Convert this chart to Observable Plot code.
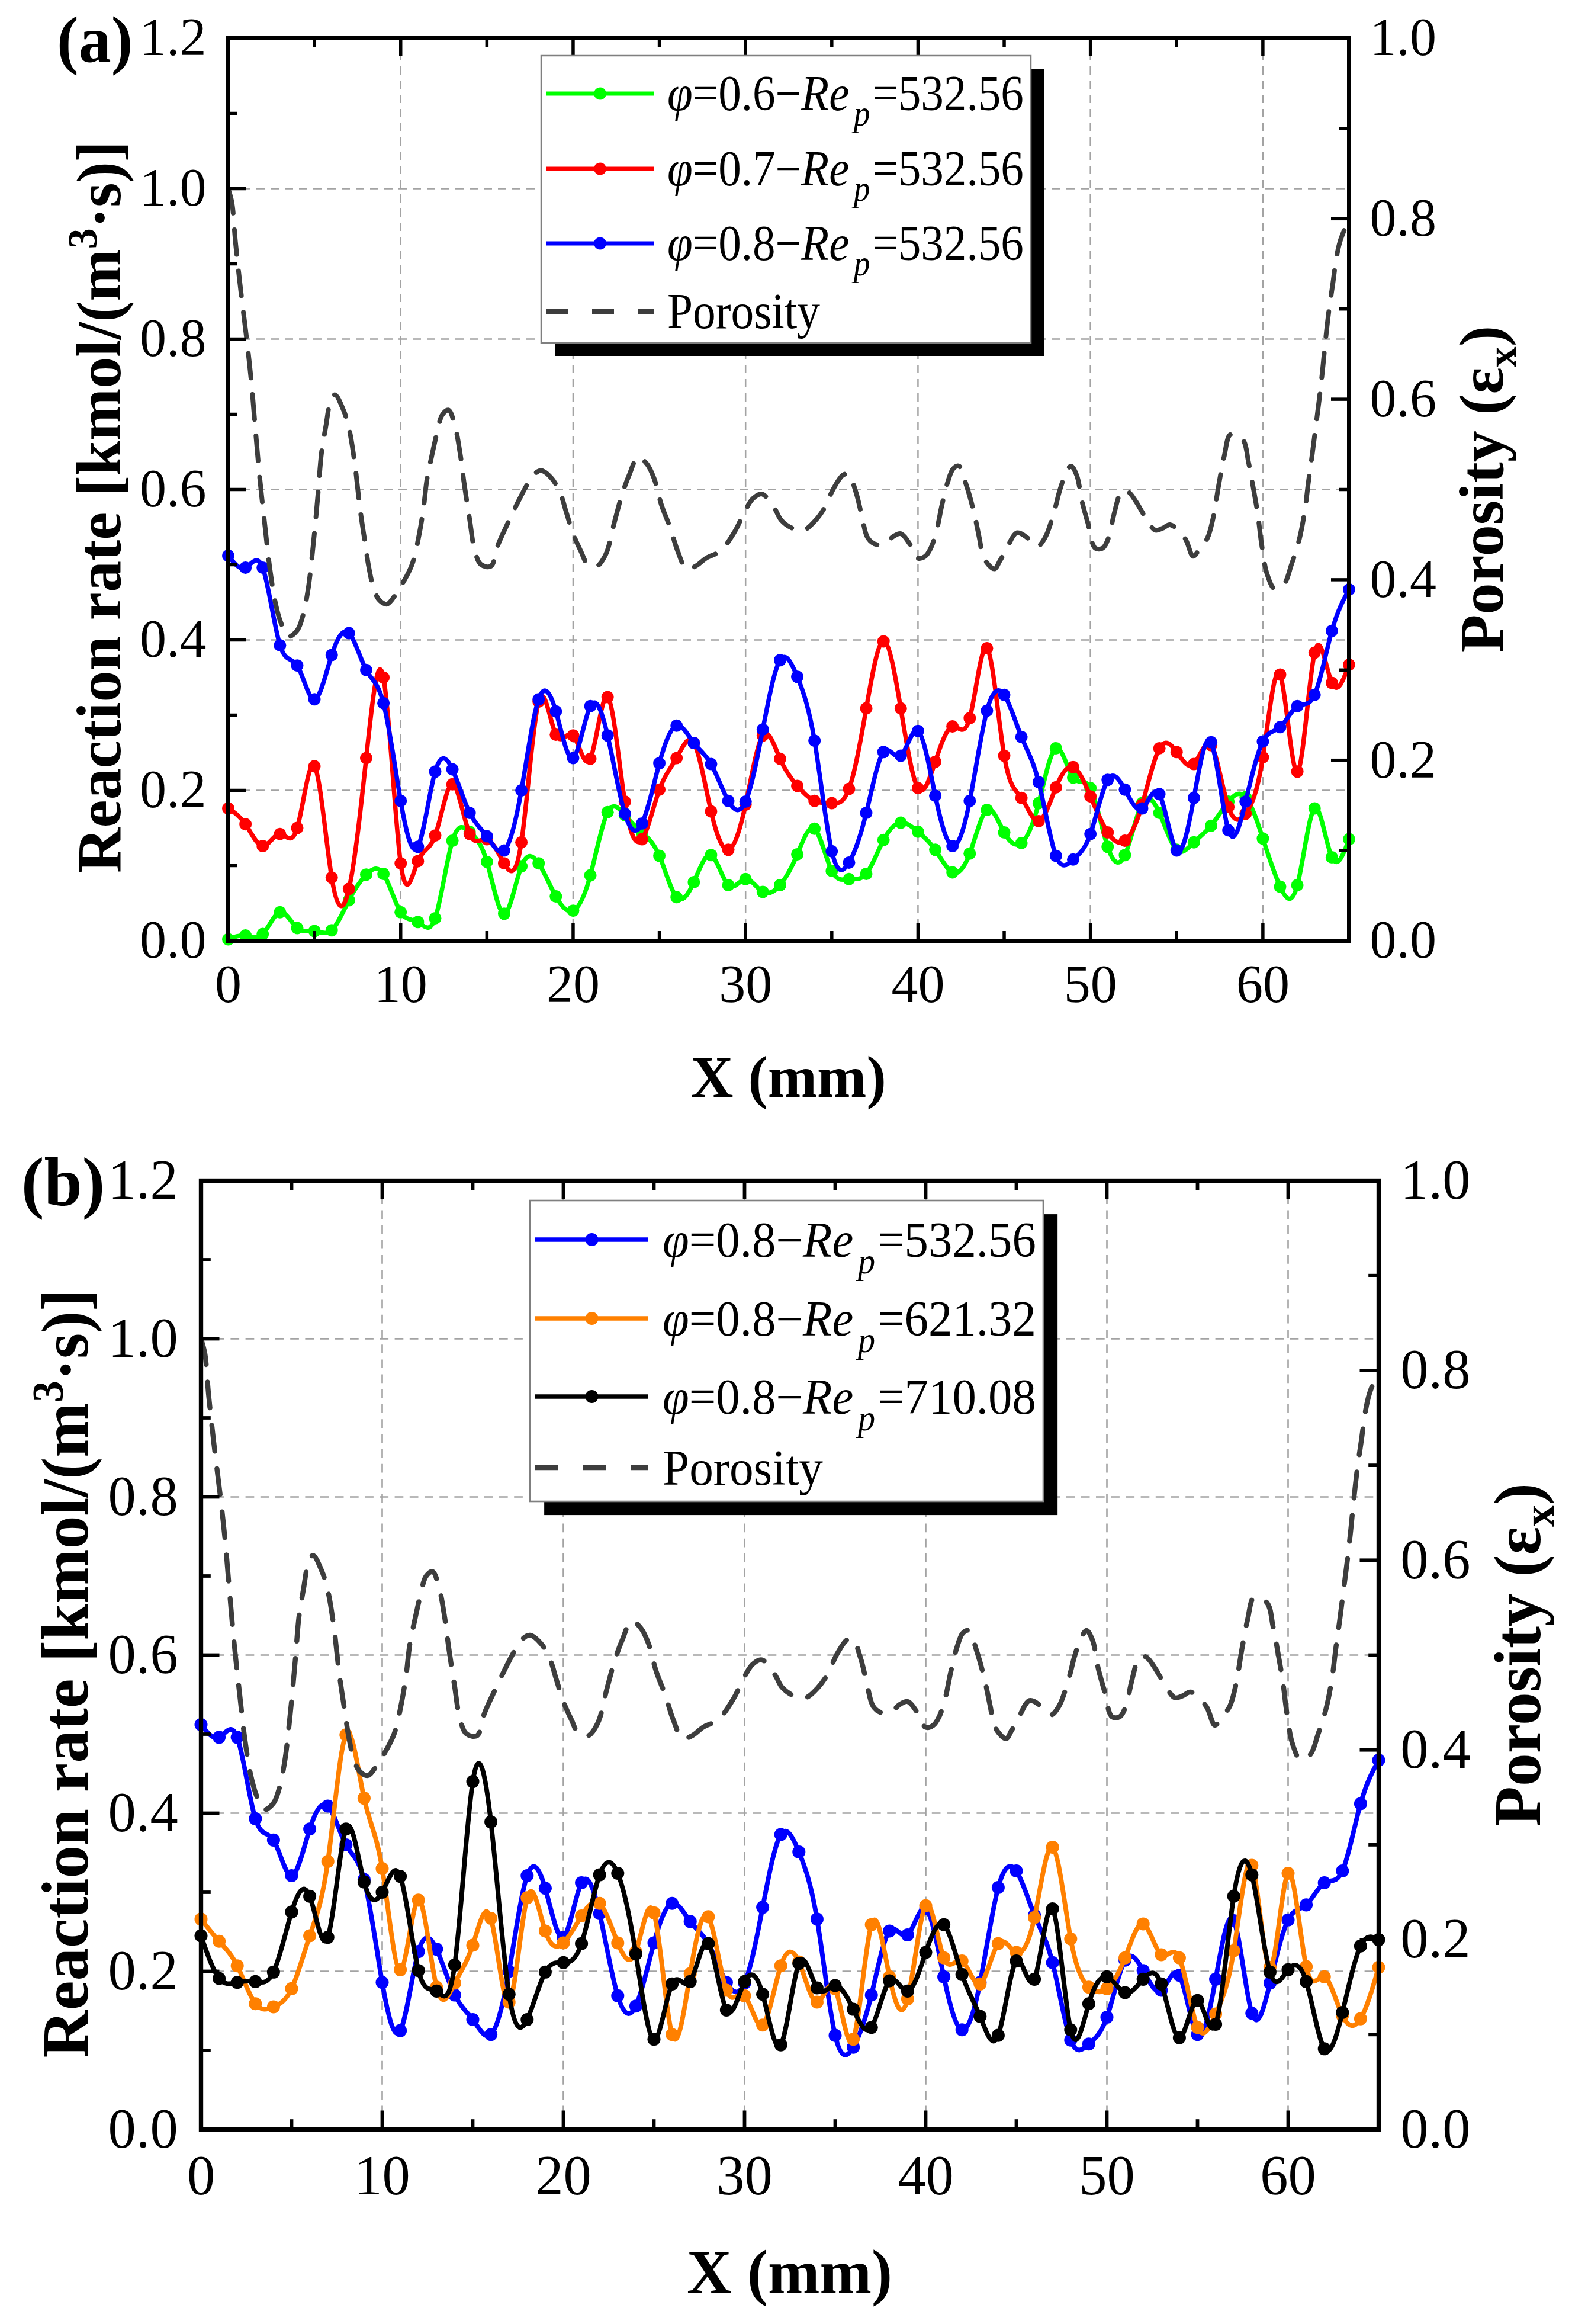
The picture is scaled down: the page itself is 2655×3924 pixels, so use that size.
<!DOCTYPE html>
<html>
<head>
<meta charset="utf-8">
<title>Reaction rate and porosity along X</title>
<script src="https://cdn.jsdelivr.net/npm/d3@7"></script>
<script src="https://cdn.jsdelivr.net/npm/@observablehq/plot@0.6"></script>
<style>
  html, body { margin: 0; padding: 0; background: #fff; }
  #page { position: relative; width: 2655px; height: 3924px; overflow: hidden; background: #fff; }
  .panel { position: absolute; left: 0; width: 2655px; }
  .panel > svg { position: absolute; left: 0; top: 0; display: block; }
</style>
</head>
<body>
<div id="page">
  <div class="panel" id="panel-a" style="top:0px;height:1900px"></div>
  <div class="panel" id="panel-b" style="top:1900px;height:2024px"></div>
</div>
<script>
// ---- data -----------------------------------------------------------------
// positions along the bed (mm) shared by every reaction-rate series
const X_MM = [0,1,2,3,4,5,6,7,8,9,10,11,12,13,14,15,16,17,18,19,20,21,22,23,24,25,26,27,28,29,30,31,32,
  33,34,35,36,37,38,39,40,41,42,43,44,45,46,47,48,49,50,51,52,53,54,55,56,57,58,59,60,61,62,63,64,65];

// reaction rate, kmol/(m3·s)
const RATE_PHI06_RE532 = [0.002,0.007,0.009,0.038,0.017,0.013,0.014,0.054,0.088,0.089,0.038,0.025,0.030,0.133,0.145,
  0.105,0.036,0.099,0.103,0.059,0.040,0.087,0.171,0.167,0.144,0.113,0.058,0.078,0.114,0.074,0.082,0.065,0.074,
  0.115,0.149,0.093,0.082,0.089,0.134,0.157,0.145,0.121,0.091,0.116,0.174,0.144,0.130,0.183,0.256,0.217,0.203,
  0.125,0.114,0.183,0.170,0.121,0.131,0.153,0.185,0.191,0.136,0.072,0.074,0.176,0.111,0.135];
const RATE_PHI07_RE532 = [0.176,0.155,0.126,0.142,0.150,0.232,0.084,0.069,0.243,0.350,0.103,0.106,0.140,0.208,0.142,
  0.135,0.103,0.131,0.318,0.274,0.273,0.242,0.324,0.185,0.135,0.201,0.243,0.263,0.172,0.121,0.181,0.273,0.242,
  0.206,0.186,0.183,0.202,0.309,0.398,0.309,0.203,0.238,0.285,0.296,0.389,0.246,0.190,0.159,0.204,0.231,0.192,
  0.144,0.133,0.181,0.256,0.251,0.235,0.260,0.178,0.169,0.244,0.354,0.225,0.383,0.343,0.367];
const RATE_PHI08_RE532 = [0.512,0.496,0.496,0.393,0.366,0.321,0.380,0.409,0.360,0.316,0.186,0.125,0.225,0.228,0.170,
  0.139,0.120,0.200,0.321,0.305,0.243,0.312,0.273,0.169,0.156,0.236,0.286,0.263,0.235,0.186,0.185,0.281,0.373,
  0.351,0.266,0.119,0.104,0.170,0.251,0.246,0.279,0.193,0.126,0.186,0.306,0.327,0.271,0.211,0.113,0.108,0.142,
  0.214,0.201,0.176,0.195,0.120,0.190,0.264,0.147,0.185,0.265,0.284,0.312,0.327,0.412,0.467];
const RATE_PHI08_RE621 = [0.266,0.238,0.207,0.159,0.155,0.178,0.245,0.339,0.499,0.419,0.330,0.202,0.290,0.180,0.185,
  0.233,0.267,0.161,0.293,0.251,0.236,0.270,0.286,0.236,0.225,0.274,0.120,0.197,0.269,0.176,0.169,0.132,0.207,
  0.212,0.161,0.178,0.114,0.259,0.193,0.165,0.283,0.217,0.213,0.184,0.235,0.224,0.268,0.357,0.241,0.180,0.178,
  0.217,0.260,0.221,0.217,0.129,0.146,0.226,0.334,0.205,0.324,0.206,0.193,0.144,0.140,0.205];
const RATE_PHI08_RE710 = [0.245,0.191,0.186,0.187,0.199,0.275,0.295,0.243,0.380,0.313,0.300,0.320,0.201,0.175,0.208,
  0.440,0.389,0.171,0.139,0.199,0.211,0.235,0.322,0.324,0.222,0.114,0.184,0.187,0.235,0.151,0.187,0.171,0.107,
  0.210,0.179,0.182,0.152,0.129,0.188,0.175,0.224,0.259,0.196,0.143,0.119,0.213,0.190,0.279,0.126,0.159,0.193,
  0.173,0.190,0.184,0.116,0.163,0.133,0.295,0.322,0.199,0.202,0.187,0.102,0.148,0.232,0.240];

// radial porosity profile (right axis)
const POROSITY_X = [0,0.21,0.42,0.71,1.08,1.33,1.56,1.81,2.12,2.43,2.75,3.06,3.48,4.0,4.31,4.62,4.93,5.2,5.41,5.66,
  5.91,6.18,6.7,7.01,7.33,7.64,7.95,8.16,8.47,8.78,9.2,9.61,10.14,10.66,11.07,11.32,11.53,11.8,12.11,12.42,12.78,
  13.15,13.47,13.67,13.99,14.3,14.65,15.23,15.65,16.27,16.8,17.32,17.69,18.15,18.77,19.29,19.6,20.02,20.44,20.85,
  21.37,21.89,22.41,22.83,23.25,23.77,24.29,24.7,25.12,25.64,26.06,26.58,27.1,27.72,28.55,29.39,29.91,30.43,30.95,
  31.68,32.07,32.72,33.37,34.02,34.56,35.1,35.65,35.97,36.4,36.73,37.1,37.6,38.14,38.57,39.0,39.55,39.98,40.42,
  40.74,41.07,41.39,41.72,42.04,42.37,42.8,43.24,43.56,43.82,44.43,44.75,45.08,45.73,46.38,46.92,47.35,47.89,48.22,
  48.54,48.87,49.2,49.52,49.85,50.28,50.71,51.04,51.36,51.69,51.91,52.23,52.66,53.1,53.75,54.18,54.62,55.48,55.96,
  56.35,56.78,57.11,57.44,57.76,58.13,58.84,59.17,59.49,59.71,59.93,60.25,60.68,61.22,61.66,62.09,62.42,62.64,
  62.85,63.07,63.29,63.46,63.61,63.83,64.05,64.26,64.48,65.0];
const POROSITY = [0.833,0.818,0.774,0.723,0.665,0.621,0.570,0.516,0.461,0.410,0.373,0.352,0.337,0.344,0.359,0.388,
  0.439,0.494,0.541,0.570,0.596,0.605,0.587,0.567,0.530,0.479,0.439,0.413,0.388,0.377,0.373,0.381,0.397,0.417,0.450,
  0.479,0.512,0.537,0.563,0.583,0.588,0.570,0.537,0.508,0.468,0.432,0.417,0.415,0.439,0.465,0.486,0.505,0.516,0.521,
  0.512,0.494,0.475,0.450,0.432,0.417,0.415,0.428,0.465,0.494,0.516,0.536,0.528,0.512,0.483,0.457,0.432,0.412,0.415,
  0.424,0.432,0.454,0.474,0.490,0.495,0.479,0.466,0.457,0.455,0.465,0.479,0.501,0.516,0.517,0.497,0.472,0.446,0.439,
  0.441,0.448,0.451,0.439,0.424,0.426,0.435,0.454,0.483,0.508,0.523,0.526,0.505,0.475,0.446,0.424,0.412,0.421,0.432,
  0.452,0.446,0.437,0.446,0.475,0.499,0.516,0.526,0.516,0.486,0.463,0.435,0.435,0.446,0.472,0.494,0.499,0.497,0.486,
  0.472,0.455,0.457,0.461,0.446,0.426,0.435,0.446,0.468,0.505,0.537,0.561,0.555,0.530,0.497,0.472,0.439,0.406,0.390,
  0.395,0.417,0.443,0.475,0.508,0.537,0.570,0.603,0.632,0.661,0.698,0.727,0.756,0.775,0.800];

// axes
const RATE_MAX = 1.2;
const POROSITY_MAX = 1.0;
const X_TICKS = [0,10,20,30,40,50,60];
const X_MINOR = [5,15,25,35,45,55,65];
const Y_TICKS = [0,0.2,0.4,0.6,0.8,1.0,1.2];
const Y_MINOR = [0.1,0.3,0.5,0.7,0.9,1.1];
const POROSITY_TICKS = [0,0.2,0.4,0.6,0.8,1.0];
const POROSITY_MINOR = [0.1,0.3,0.5,0.7,0.9];

// legend entries
const LEGEND_A_PHI = ["0.6","0.7","0.8"];
const LEGEND_A_RE = ["532.56","532.56","532.56"];
const LEGEND_B_PHI = ["0.8","0.8","0.8"];
const LEGEND_B_RE = ["532.56","621.32","710.08"];

const GREEN = "#00ff00", RED = "#ff0000", BLUE = "#0000ff", ORANGE = "#ff8000", BLACK = "#000000";
const POROSITY_GRAY = "#3d3d3d";
const FONT = "'Liberation Serif', 'Times New Roman', Times, serif";

// ---- drawing --------------------------------------------------------------
const W = 2655;
const toRate = p => p * RATE_MAX / POROSITY_MAX;

// squeeze a legend label horizontally so that it spans exactly `width` px
function fitWidth(textSel, x, y, width) {
  const w = textSel.node().getBBox().width || width;
  textSel.attr("transform", `translate(${x},${y}) scale(${width / w},1)`);
}

function drawPanel(el, cfg) {
  const {k, svgH, mt, mr, mb, ml} = cfg;
  const iw = W - ml - mr, ih = svgH - mt - mb;
  const rows = vals => X_MM.map((x, i) => ({x, y: vals[i]}));
  const poro = POROSITY_X.map((x, i) => ({x, p: POROSITY[i]}));
  const grid = {stroke: "#a3a3a3", strokeOpacity: 1, strokeWidth: 2.5 * k, strokeDasharray: `${14 * k},${10 * k}`};
  const major = 30 * k, minor = 16 * k;
  const tick = {stroke: "black", strokeWidth: 5.5 * k};

  const marks = [
    Plot.gridX(X_TICKS.filter(d => d > 0), grid),
    Plot.gridY(Y_TICKS.filter(d => d > 0 && d < RATE_MAX), grid)
  ];
  for (const s of cfg.series) {
    const d = rows(s.values);
    marks.push(Plot.line(d, {x: "x", y: "y", stroke: s.color, strokeWidth: 7.5 * k, curve: "natural", clip: true}));
    marks.push(Plot.dot(d, {x: "x", y: "y", r: 10.5 * k, fill: s.color}));
  }
  marks.push(Plot.line(poro, {x: "x", y: d => toRate(d.p), stroke: POROSITY_GRAY, strokeWidth: 8 * k,
    strokeDasharray: `${42 * k},${28 * k}`, curve: "catmull-rom", clip: true}));
  marks.push(
    Plot.tickX(X_TICKS, {x: d => d, insetTop: ih - major, ...tick}),
    Plot.tickX(X_MINOR, {x: d => d, insetTop: ih - minor, ...tick}),
    Plot.tickX(X_TICKS, {x: d => d, insetBottom: ih - major, ...tick}),
    Plot.tickX(X_MINOR, {x: d => d, insetBottom: ih - minor, ...tick}),
    Plot.tickY(Y_TICKS, {y: d => d, insetRight: iw - major, ...tick}),
    Plot.tickY(Y_MINOR, {y: d => d, insetRight: iw - minor, ...tick}),
    Plot.tickY(POROSITY_TICKS, {y: d => toRate(d), insetLeft: iw - major, ...tick}),
    Plot.tickY(POROSITY_MINOR, {y: d => toRate(d), insetLeft: iw - minor, ...tick}),
    Plot.frame({stroke: "black", strokeWidth: 7 * k}),
    Plot.axisX(X_TICKS, {anchor: "bottom", tickSize: 0, tickPadding: 40 * k, label: null}),
    Plot.axisY(Y_TICKS, {anchor: "left", tickSize: 0, tickPadding: 37 * k, label: null, tickFormat: d => d.toFixed(1)}),
    Plot.axisY(POROSITY_TICKS.map(toRate), {anchor: "right", tickSize: 0, tickPadding: 35 * k, label: null,
      tickFormat: d => (d * POROSITY_MAX / RATE_MAX).toFixed(1)})
  );

  const chart = Plot.plot({
    width: W, height: svgH,
    marginTop: mt, marginRight: mr, marginBottom: mb, marginLeft: ml,
    x: {domain: [0, 65]},
    y: {domain: [0, RATE_MAX]},
    style: {fontFamily: FONT, fontSize: `${90 * k}px`, color: "black", background: "white", overflow: "visible"},
    marks
  });
  el.appendChild(chart);

  // titles, panel tag and legend
  const ov = d3.create("svg").attr("width", W).attr("height", svgH)
    .style("font-family", FONT).style("pointer-events", "none");
  el.appendChild(ov.node());

  ov.append("text").attr("x", cfg.tagX).attr("y", mt + 40 * k)
    .attr("font-size", 110 * k).attr("font-weight", "bold").text(cfg.tag);

  const lt = ov.append("text")
    .attr("transform", `translate(${ml - 182 * k},${mt + ih / 2 + 30 * k}) rotate(-90)`)
    .attr("text-anchor", "middle").attr("font-size", 106 * k).attr("font-weight", "bold");
  lt.append("tspan").text("Reaction rate [kmol/(m");
  lt.append("tspan").attr("dy", -40 * k).attr("font-size", 70 * k).text("3");
  lt.append("tspan").attr("dy", 40 * k).text("·s)]");

  const rt = ov.append("text")
    .attr("transform", `translate(${W - mr + 260 * k},${mt + ih / 2}) rotate(-90)`)
    .attr("text-anchor", "middle").attr("font-size", 106 * k).attr("font-weight", "bold");
  rt.append("tspan").text("Porosity (ε");
  rt.append("tspan").attr("dy", 22 * k).attr("font-size", 70 * k).text("x");
  rt.append("tspan").attr("dy", -22 * k).text(")");

  ov.append("text").attr("x", ml + iw / 2).attr("y", mt + ih + 264 * k)
    .attr("text-anchor", "middle").attr("font-size", 100 * k).attr("font-weight", "bold").text("X (mm)");

  const L = cfg.legend;
  ov.append("rect").attr("x", L.x + 23 * k).attr("y", L.y + 22 * k).attr("width", L.w).attr("height", L.h).attr("fill", "black");
  ov.append("rect").attr("x", L.x).attr("y", L.y).attr("width", L.w).attr("height", L.h)
    .attr("fill", "white").attr("stroke", "#7f7f7f").attr("stroke-width", 2.5 * k);
  const fs = 84;
  cfg.series.forEach((s, i) => {
    const y = L.rowY[i];
    ov.append("line").attr("x1", L.s1).attr("x2", L.s2).attr("y1", y).attr("y2", y)
      .attr("stroke", s.color).attr("stroke-width", 7 * k);
    ov.append("circle").attr("cx", (L.s1 + L.s2) / 2).attr("cy", y).attr("r", 10.5 * k).attr("fill", s.color);
    const t = ov.append("text").attr("font-size", fs);
    t.append("tspan").attr("font-style", "italic").text("φ");
    t.append("tspan").text(`=${L.phi[i]}−`);
    t.append("tspan").attr("font-style", "italic").text("Re");
    t.append("tspan").attr("font-style", "italic").attr("font-size", fs * 0.72)
      .attr("dx", 8).attr("dy", 26 * k).text("p");
    t.append("tspan").attr("dx", 4).attr("dy", -26 * k).text(`=${L.re[i]}`);
    fitWidth(t, L.tx, y + 28 * k, L.tw);
  });
  const py = L.rowY[3];
  ov.append("line").attr("x1", L.s1).attr("x2", L.s2).attr("y1", py).attr("y2", py)
    .attr("stroke", POROSITY_GRAY).attr("stroke-width", 8 * k).attr("stroke-dasharray", `${37 * k},${40 * k}`);
  const pt = ov.append("text").attr("font-size", fs).text("Porosity");
  fitWidth(pt, L.tx, py + 28 * k, L.pw);
}

drawPanel(document.getElementById("panel-a"), {
  k: 1, svgH: 1900, mt: 64, mr: 377, mb: 312, ml: 385, tag: "(a)", tagX: 96,
  series: [
    {values: RATE_PHI06_RE532, color: GREEN},
    {values: RATE_PHI07_RE532, color: RED},
    {values: RATE_PHI08_RE532, color: BLUE}
  ],
  legend: {x: 914, y: 94, w: 827, h: 485, rowY: [158, 285, 411, 526], s1: 923, s2: 1104, tx: 1127, tw: 602, pw: 258,
    phi: LEGEND_A_PHI, re: LEGEND_A_RE}
});

drawPanel(document.getElementById("panel-b"), {
  k: 1.05, svgH: 2024, mt: 93, mr: 327, mb: 329, ml: 339, tag: "(b)", tagX: 36,
  series: [
    {values: RATE_PHI08_RE532, color: BLUE},
    {values: RATE_PHI08_RE621, color: ORANGE},
    {values: RATE_PHI08_RE710, color: BLACK}
  ],
  legend: {x: 895, y: 127, w: 867, h: 508, rowY: [193, 326, 458, 578], s1: 904, s2: 1095, tx: 1119, tw: 631, pw: 271,
    phi: LEGEND_B_PHI, re: LEGEND_B_RE}
});
</script>
</body>
</html>
